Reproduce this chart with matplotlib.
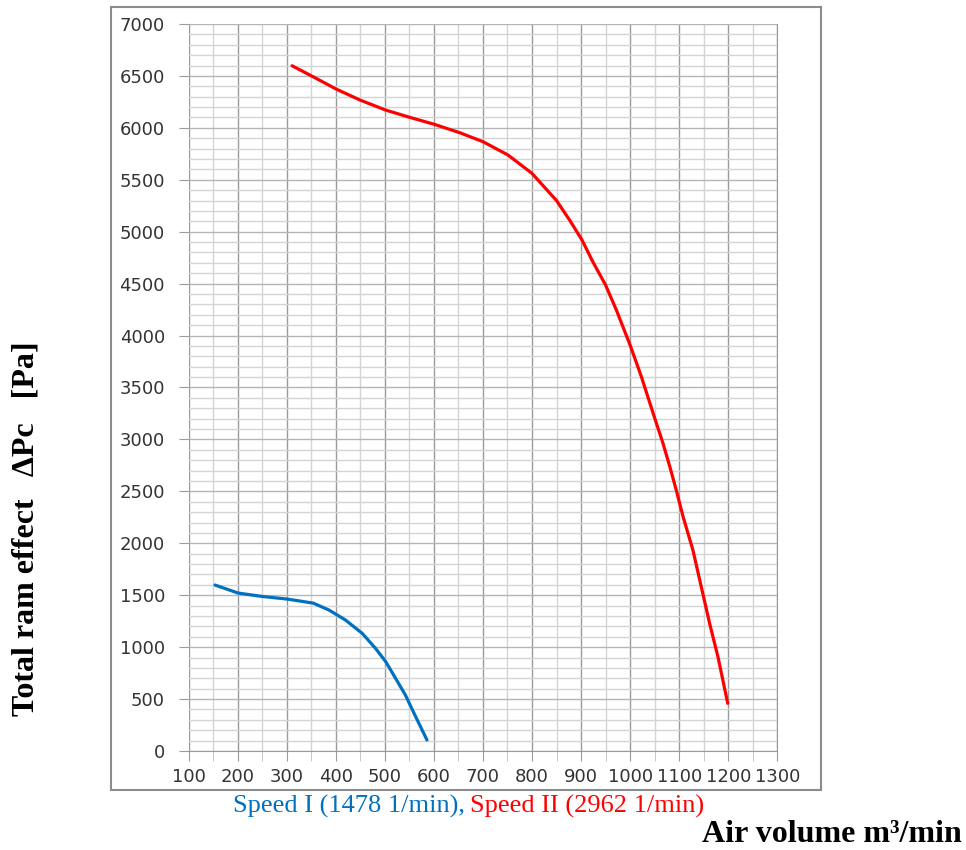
import matplotlib
matplotlib.use('Agg')
import matplotlib.pyplot as plt
from matplotlib.patches import Rectangle
from matplotlib.ticker import MultipleLocator

# ---- Data ----
speed1_q = [154, 201, 250, 301, 354, 386, 420, 454, 481, 502, 522, 542, 563, 586]
speed1_p = [1598, 1521, 1488, 1463, 1424, 1358, 1261, 1133, 989, 860, 700, 539, 330, 106]

speed2_q = [311, 354, 402, 450, 502, 551, 601, 653, 700, 751, 800, 850, 877,
            902, 924, 950, 972, 1000, 1023, 1047, 1067, 1081, 1094, 1108, 1128,
            1145, 1162, 1179, 1199]
speed2_p = [6598, 6492, 6371, 6267, 6171, 6101, 6034, 5953, 5867, 5739, 5562, 5300, 5110,
            4920, 4711, 4487, 4246, 3909, 3604, 3251, 2963, 2737, 2513, 2256, 1935,
            1582, 1230, 908, 459]

x_ticks = list(range(100, 1301, 100))
y_ticks = list(range(0, 7001, 500))

BLUE = '#0070C0'
RED = '#FF0000'

W, H = 966, 850
fig = plt.figure(figsize=(W / 100, H / 100), dpi=100)
ax = fig.add_axes([188.5 / W, 1 - 751 / H, (777.3 - 188.5) / W, (751 - 24) / H])

# outer chart frame
fig.patches.append(Rectangle((111 / W, 1 - 790 / H), (821 - 111) / W, (790 - 7) / H,
                             transform=fig.transFigure, fill=False,
                             edgecolor='#8c8c8c', linewidth=1.5, zorder=0))

ax.set_xlim(100, 1300)
ax.set_ylim(0, 7000)
ax.set_xticks(x_ticks)
ax.set_yticks(y_ticks)
ax.xaxis.set_minor_locator(MultipleLocator(50))
ax.yaxis.set_minor_locator(MultipleLocator(100))

ax.grid(which='minor', color='#d4d4d4', linewidth=1.0)
ax.grid(which='major', axis='x', color='#9a9a9a', linewidth=1.0)
ax.grid(which='major', axis='y', color='#b5b5b5', linewidth=1.0)
ax.set_axisbelow(True)

for s in ['top', 'left']:
    ax.spines[s].set_visible(False)
ax.spines['right'].set_color('#9a9a9a')
ax.spines['bottom'].set_color('#9a9a9a')

ax.tick_params(axis='both', which='major', labelsize=13, labelcolor='#333333',
               color='#9a9a9a', length=7)
ax.tick_params(axis='x', which='minor', color='#bbbbbb', length=7)
ax.tick_params(axis='y', which='minor', length=0)
ax.tick_params(axis='x', which='major', pad=5)
ax.tick_params(axis='y', which='major', pad=10)

ax.plot(speed1_q, speed1_p, color=BLUE, linewidth=2.3, solid_capstyle='round',
        solid_joinstyle='round', zorder=3)
ax.plot(speed2_q, speed2_p, color=RED, linewidth=2.3, solid_capstyle='round',
        solid_joinstyle='round', zorder=3)

serif = 'Liberation Serif'
fig.text(465 / W, 1 - 806 / H, 'Speed I (1478 1/min),', color=BLUE, family=serif,
         fontsize=19, ha='right', va='center')
fig.text(470 / W, 1 - 806 / H, 'Speed II (2962 1/min)', color=RED, family=serif,
         fontsize=19, ha='left', va='center')
fig.text(962 / W, 1 - 835 / H, 'Air volume m\u00b3/min', color='black', family=serif,
         fontsize=23, fontweight='bold', ha='right', va='center')
fig.text(26 / W, 1 - 529 / H, 'Total ram effect   \u0394Pc   [Pa]', color='black',
         family=serif, fontsize=23, fontweight='bold', rotation=90,
         ha='center', va='center')

plt.savefig('out.png', dpi=100)
